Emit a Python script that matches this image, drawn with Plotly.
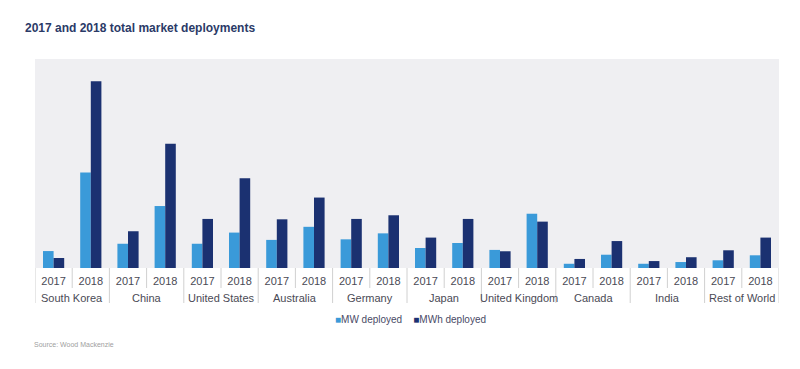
import plotly.graph_objects as go

countries = ["South Korea", "China", "United States", "Australia", "Germany",
             "Japan", "United Kingdom", "Canada", "India", "Rest of World"]
years = ["2017", "2018"]

mw_deployed = [440, 2480, 630, 1610, 630, 920, 730, 1070, 745, 900,
               520, 650, 470, 1410, 110, 345, 110, 155, 200, 330]
mwh_deployed = [260, 4850, 955, 3225, 1275, 2330, 1265, 1830, 1275, 1370,
                790, 1275, 435, 1205, 235, 700, 180, 280, 460, 790]

MW_COLOR = "#3a9ad9"
MWH_COLOR = "#1b3171"
DIV_COLOR = "#d0d0d0"
FONT = "Liberation Sans, Arial, sans-serif"

n_years = len(years)
xpos = list(range(len(countries) * n_years))
year_labels = [y for _ in countries for y in years]
hover_cat = [f"{c} {y}" for c in countries for y in years]

fig = go.Figure()
fig.add_trace(go.Bar(x=xpos, y=mw_deployed, name="MW deployed", hovertext=hover_cat,
                     marker=dict(color=MW_COLOR, line=dict(width=0)), showlegend=False))
fig.add_trace(go.Bar(x=xpos, y=mwh_deployed, name="MWh deployed", hovertext=hover_cat,
                     marker=dict(color=MWH_COLOR, line=dict(width=0)), showlegend=False))

# baseline 268px, plot height 209px
def py(px):
    return -(px - 268) / 209

shapes = []
annotations = []
for k, c in enumerate(countries):
    left = k * n_years - 0.5
    shapes.append(dict(type="line", xref="x", yref="paper", x0=left, x1=left,
                       y0=0, y1=py(303), line=dict(color=DIV_COLOR, width=1)))
    mid = k * n_years + (n_years - 1) / 2
    shapes.append(dict(type="line", xref="x", yref="paper", x0=mid, x1=mid,
                       y0=0, y1=py(288), line=dict(color=DIV_COLOR, width=1)))
    annotations.append(dict(text=c, xref="x", yref="paper", x=mid, y=py(298),
                            xanchor="center", yanchor="middle", showarrow=False,
                            font=dict(family=FONT, size=11, color="#4a4a55")))
right = len(xpos) - 0.5
shapes.append(dict(type="line", xref="x", yref="paper", x0=right, x1=right,
                   y0=0, y1=py(303), line=dict(color=DIV_COLOR, width=1)))

legend_text = (f"<span style='color:{MW_COLOR}'>■</span>MW deployed"
               f"    <span style='color:{MWH_COLOR}'>■</span>MWh deployed")
annotations += [
    dict(text=legend_text, xref="paper", yref="paper",
         x=(410 - 35) / 744, y=py(319), xanchor="center", yanchor="middle",
         showarrow=False, font=dict(family=FONT, size=10, color="#4a4a66")),
    dict(text="Source: Wood Mackenzie", xref="paper", yref="paper",
         x=-3 / 744, y=py(344), xanchor="left", yanchor="middle",
         showarrow=False, font=dict(family=FONT, size=7, color="#a0a0a0")),
]

fig.update_layout(
    width=800, height=369,
    margin=dict(l=35, r=21, t=59, b=101),
    paper_bgcolor="white",
    plot_bgcolor="#efeff2",
    barmode="group",
    bargap=0.43,
    bargroupgap=0,
    font=dict(family=FONT, size=10, color="#4a4a55"),
    title=dict(text="<b>2017 and 2018 total market deployments</b>",
               x=25 / 800, xanchor="left", xref="container",
               y=1 - 28 / 369, yanchor="middle", yref="container",
               font=dict(family=FONT, size=12, color="#2b3a67")),
    showlegend=False,
    shapes=shapes,
    annotations=annotations,
)
fig.update_xaxes(range=[-0.5, len(xpos) - 0.5], tickmode="array", tickvals=xpos,
                 ticktext=year_labels, showgrid=False, ticks="", zeroline=False,
                 ticklabelstandoff=5,
                 tickfont=dict(size=11, color="#4a4a55"), showline=False)
fig.update_yaxes(range=[0, 5430], showticklabels=False, showgrid=False,
                 zeroline=False, showline=False, ticks="")

fig.write_html("out.html", config={"displayModeBar": False},
               post_script="document.body.style.margin='0';document.body.style.padding='0';")
